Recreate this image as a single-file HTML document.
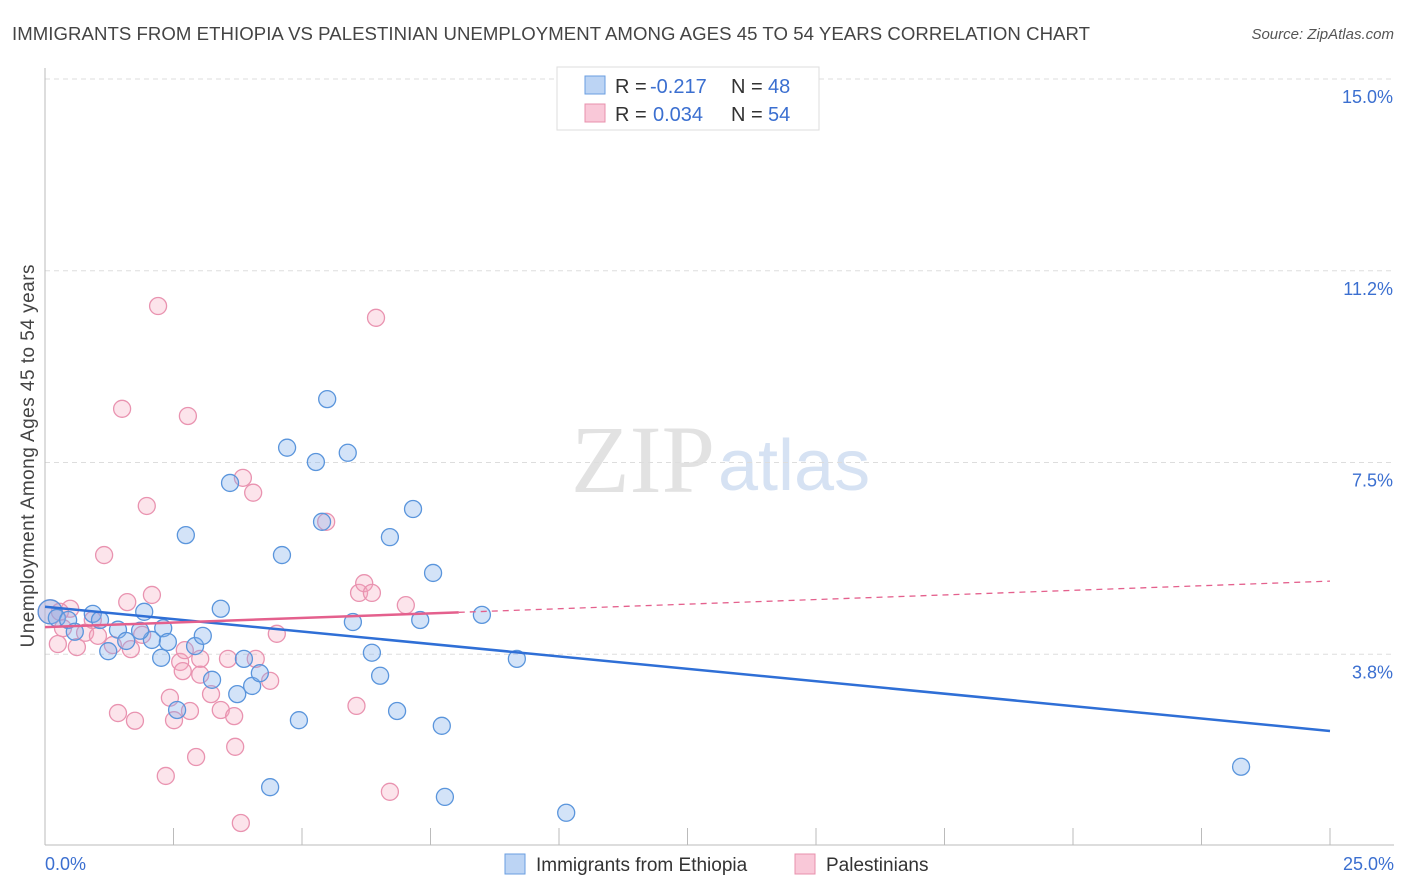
<!DOCTYPE html>
<html><head><meta charset="utf-8"><style>
body{margin:0;background:#fff;font-family:"Liberation Sans",sans-serif;}
svg{display:block}
</style></head><body>
<svg id="chart" width="1406" height="892" xmlns="http://www.w3.org/2000/svg">
<text x="12" y="40" font-size="18.6" fill="#444" textLength="1078">IMMIGRANTS FROM ETHIOPIA VS PALESTINIAN UNEMPLOYMENT AMONG AGES 45 TO 54 YEARS CORRELATION CHART</text>
<text x="1394" y="39" font-size="15" fill="#555" font-style="italic" text-anchor="end">Source: ZipAtlas.com</text>
<text x="715" y="492" font-size="96" fill="#e2e2e2" text-anchor="end" font-family="Liberation Serif,serif">ZIP</text>
<text x="718" y="490" font-size="72" fill="#d6e2f3">atlas</text>
<text transform="translate(34,456) rotate(-90)" font-size="19" fill="#444" text-anchor="middle" textLength="383">Unemployment Among Ages 45 to 54 years</text>
<g id="grid"></g><g id="axes"></g><g id="pts"></g><g id="trends"></g>
<g>
<rect x="557" y="67" width="262" height="63" fill="#fff" stroke="#ddd"/>
<rect x="585" y="76" width="20" height="18" fill="#bcd4f4" stroke="#6a9ee0"/>
<rect x="585" y="104" width="20" height="18" fill="#f9c8d8" stroke="#e890ac"/>
<g font-size="20">
<text x="615" y="93" fill="#333">R =</text><text x="650" y="93" fill="#3b6fd0">-0.217</text>
<text x="731" y="93" fill="#333">N =</text><text x="768" y="93" fill="#3b6fd0">48</text></g>
<g font-size="20">
<text x="615" y="121" fill="#333">R =</text><text x="653" y="121" fill="#3b6fd0">0.034</text>
<text x="731" y="121" fill="#333">N =</text><text x="768" y="121" fill="#3b6fd0">54</text></g>
</g>
<g>
<rect x="505" y="854" width="20" height="20" fill="#bcd4f4" stroke="#6a9ee0"/>
<text x="536" y="871" font-size="19" fill="#333">Immigrants from Ethiopia</text>
<rect x="795" y="854" width="20" height="20" fill="#f9c8d8" stroke="#e890ac"/>
<text x="826" y="871" font-size="19" fill="#333">Palestinians</text>
</g>
</svg>
<script>
const xTicks=[0,2.5,5,7.5,10,12.5,15,17.5,20,22.5,25];
const yTicks=[3.75,7.5,11.25,15];
const yTickLabels=["3.8%","7.5%","11.2%","15.0%"];
const xTickLabels=["0.0%","25.0%"];
const blueX=[0.10,0.23,0.45,0.58,0.93,1.07,1.23,1.42,1.58,1.93,2.08,2.26,2.30,2.39,2.57,2.74,2.92,3.07,3.25,3.42,3.60,3.74,3.87,4.03,4.18,4.38,4.61,4.71,4.94,5.27,5.39,5.49,5.89,5.99,6.36,6.52,6.71,6.85,7.16,7.30,7.55,7.72,7.78,8.50,9.18,10.14,23.27,1.85];
const blueY=[4.58,4.46,4.42,4.19,4.54,4.42,3.81,4.23,4.01,4.58,4.03,3.68,4.26,3.99,2.66,6.08,3.91,4.11,3.25,4.64,7.10,2.97,3.66,3.13,3.38,1.15,5.69,7.79,2.46,7.51,6.34,8.74,7.69,4.38,3.78,3.33,6.04,2.64,6.59,4.42,5.34,2.35,0.96,4.52,3.66,0.65,1.55,4.21];
const pinkX=[0.10,0.25,0.35,0.49,0.62,0.78,0.93,1.03,1.15,1.32,1.42,1.50,1.60,1.67,1.75,1.89,1.98,2.08,2.20,2.35,2.43,2.51,2.63,2.68,2.78,2.82,2.94,3.02,3.23,3.42,3.56,3.68,3.70,3.81,3.85,4.05,4.10,4.38,4.51,5.47,6.06,6.11,6.21,6.36,6.44,6.71,7.02,2.72,3.02,0.29];
const pinkY=[4.58,3.95,4.26,4.64,3.89,4.17,4.42,4.11,5.69,3.93,2.60,8.55,4.77,3.85,2.45,4.13,6.65,4.91,10.56,1.37,2.90,2.46,3.60,3.42,8.41,2.64,1.74,3.66,2.97,2.66,3.66,2.54,1.94,0.45,7.20,6.91,3.66,3.23,4.15,6.34,2.74,4.95,5.14,4.95,10.33,1.06,4.71,3.83,3.35,4.58];
const blueTrend=[4.68,2.25];
const pinkTrend=[4.28,5.18];
const pinkSolidEnd=8.05;
const X=v=>45+v/25*1285, Y=v=>846-v/15*767;
const NS="http://www.w3.org/2000/svg";
function mk(p,t,a){const e=document.createElementNS(NS,t);for(const k in a)e.setAttribute(k,a[k]);document.getElementById(p).appendChild(e);return e;}
yTicks.forEach((t,i)=>{
 const l=mk('grid','line',{x1:45,x2:1394,y1:Y(t),y2:Y(t),stroke:'#ddd','stroke-dasharray':'5,4'});
 
 
 const tx=mk('grid','text',{x:1393,y:Y(t)+24,'font-size':18,fill:'#3b6fd0','text-anchor':'end'});
 tx.textContent=yTickLabels[i];
 
 
});
const ax=mk('axes','line',{x1:45,x2:1394,y1:845,y2:845,stroke:'#bbb'});


const ay=mk('axes','line',{x1:45,x2:45,y1:68,y2:845,stroke:'#bbb'});


xTicks.forEach(t=>{const l=mk('axes','line',{x1:X(t),x2:X(t),y1:828,y2:845,stroke:'#bbb'});
 
 });
[[0,'start',45],[25,'end',1394]].forEach((d,i)=>{const tx=mk('axes','text',{x:d[2],y:870,'font-size':18,fill:'#3b6fd0','text-anchor':d[1]});
 tx.textContent=xTickLabels[i];
 
 });
function pts(xs,ys,fill,stroke,name){xs.forEach((x,i)=>{const c=mk('pts','circle',{cx:X(x),cy:Y(ys[i]),r:i==0?12:8.5,fill:fill,stroke:stroke,'stroke-width':1.3});
 
 });}
pts(pinkX,pinkY,'rgba(244,165,190,0.3)','#e993b0','point-palestinians');
pts(blueX,blueY,'rgba(130,175,235,0.35)','#5a95dc','point-ethiopia');
const bt=mk('trends','line',{x1:X(0),y1:Y(blueTrend[0]),x2:X(25),y2:Y(blueTrend[1]),stroke:'#2f6fd6','stroke-width':2.5});


const pm=pinkTrend[0]+(pinkTrend[1]-pinkTrend[0])*pinkSolidEnd/25;
const ps=mk('trends','line',{x1:X(0),y1:Y(pinkTrend[0]),x2:X(pinkSolidEnd),y2:Y(pm),stroke:'#e4608d','stroke-width':2.5});


const pd=mk('trends','line',{x1:X(pinkSolidEnd),y1:Y(pm),x2:X(25),y2:Y(pinkTrend[1]),stroke:'#e4608d','stroke-width':1.3,'stroke-dasharray':'6,5'});


</script>
</body></html>
